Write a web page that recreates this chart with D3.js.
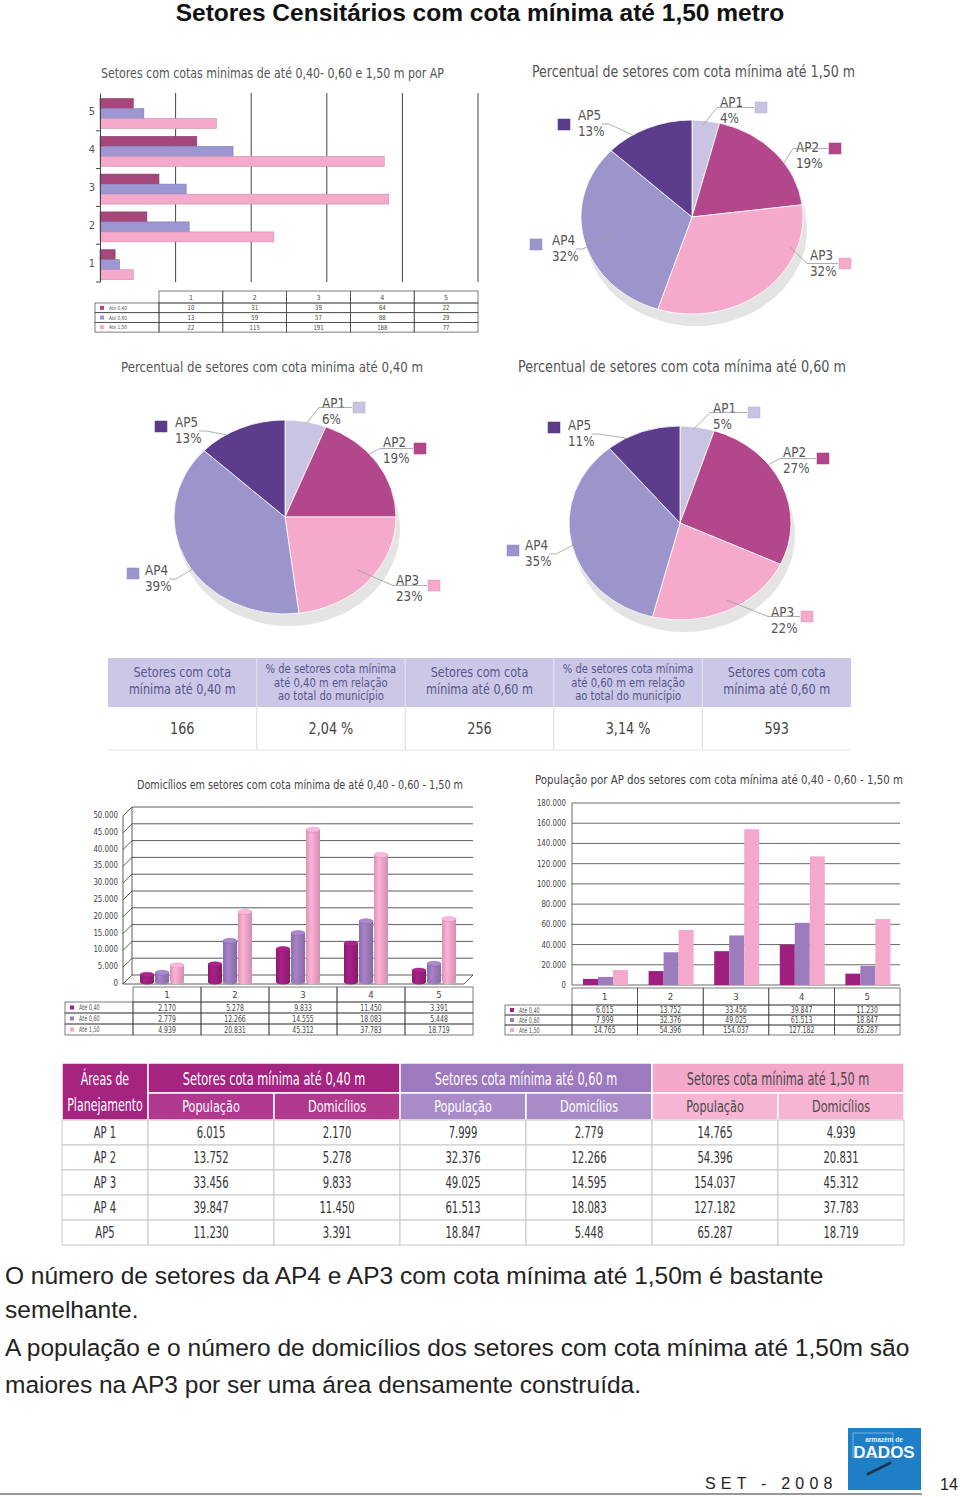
<!DOCTYPE html>
<html>
<head>
<meta charset="utf-8">
<script src="https://cdn.jsdelivr.net/npm/d3@7"></script>
<style>
  body { margin: 0; background: #fff; }
  svg { display: block; }
</style>
</head>
<body>
<div id="pagina"></div>
<script>
/* dados */
const aps = ["1", "2", "3", "4", "5"];
const apNomes = ["AP1", "AP2", "AP3", "AP4", "AP5"];
const cotas = ["Até 0,40", "Até 0,60", "Até 1,50"];

// setores por AP (grafico de barras horizontais)
const setores040 = [10, 31, 39, 64, 22];
const setores060 = [13, 59, 57, 88, 29];
const setores150 = [22, 115, 191, 188, 77];
const ticksSetores = [50, 100, 150, 200, 250];

// percentuais das pizzas
const pct150 = [4, 19, 32, 32, 13];
const pct040 = [6, 19, 23, 39, 13];
const pct060 = [5, 27, 22, 35, 11];

// quadro resumo
const resumoCabecalho = [
  ["Setores com cota", "mínima até 0,40 m"],
  ["% de setores cota mínima", "até 0,40 m em relação", "ao total do município"],
  ["Setores com cota", "mínima até 0,60 m"],
  ["% de setores  cota mínima", "até 0,60 m em relação", "ao total do município"],
  ["Setores com cota", "mínima até 0,60 m"]
];
const resumoValores = ["166", "2,04 %", "256", "3,14 %", "593"];

// domicilios
const domic040 = [2170, 5278, 9833, 11450, 3391];
const domic060 = [2779, 12266, 14555, 18083, 5448];
const domic150 = [4939, 20831, 45312, 37783, 18719];
const ticksDomic = d3.range(0, 50001, 5000);

// populacao
const pop040 = [6015, 13752, 33456, 39847, 11230];
const pop060 = [7999, 32376, 49025, 61513, 18847];
const pop150 = [14765, 54396, 154037, 127182, 65287];
const ticksPop = d3.range(0, 180001, 20000);

// tabela final
const tabelaAreas = ["AP 1", "AP 2", "AP 3", "AP 4", "AP5"];
const tabelaGrupos = ["Setores cota mínima até 0,40 m", "Setores cota mínima até 0,60 m", "Setores cota mínima até 1,50 m"];
const tabelaSub = ["População", "Domicílios"];
const domic060Tabela = [2779, 12266, 14595, 18083, 5448];

const texto = [
  "O número de setores da AP4 e AP3 com cota mínima até 1,50m é bastante",
  "semelhante.",
  "A população e o número de domicílios dos setores com cota mínima até 1,50m são",
  "maiores na AP3 por ser uma área densamente construída."
];

/* estilos */
const COND = '"Liberation Sans Narrow", "DejaVu Sans Condensed", "Roboto Condensed", sans-serif';
const SANS = '"Liberation Sans", Arial, sans-serif';
const coresSetores = ["#a6467a", "#9c96d2", "#f5aacc"];
const coresPizza = ["#c9c4e4", "#b2478b", "#f5a9cb", "#9b95cc", "#5b3d8b"];
const coresSerie = ["#9e1f80", "#9d7cbe", "#f4a8cc"];

const fmt = d3.formatLocale({decimal: ",", thousands: ".", grouping: [3], currency: ["", ""]}).format(",d");

// a fonte condensada do original e mais estreita: aperta o texto na horizontal
function aperta(sel, k) {
  sel.each(function() {
    const L = this.getComputedTextLength();
    if (L > 0) d3.select(this).attr("textLength", L * k).attr("lengthAdjust", "spacingAndGlyphs");
  });
}
function larg(sel, w) {
  sel.attr("textLength", w).attr("lengthAdjust", "spacingAndGlyphs");
}

const svg = d3.select("#pagina").append("svg")
    .attr("width", 960).attr("height", 1497)
    .attr("viewBox", [0, 0, 960, 1497]);
const defs = svg.append("defs");

svg.append("text")
    .attr("x", 480).attr("y", 21).attr("text-anchor", "middle")
    .attr("font-family", SANS).attr("font-weight", "bold").attr("font-size", 24.5)
    .attr("fill", "#111")
    .text("Setores Censitários com cota mínima até 1,50 metro");

/* tabela pequena debaixo dos graficos */
function tabela(g, xb, legX, top, headH, rowH, linhas, cores, fs, k) {
  const x0 = xb.range()[0];
  const cor = "#444";
  g.append("g").selectAll("rect").data(xb.domain()).join("rect")
      .attr("x", d => xb(d)).attr("y", top)
      .attr("width", xb.bandwidth()).attr("height", headH)
      .attr("fill", "none").attr("stroke", cor).attr("stroke-width", 0.7);
  g.append("g").selectAll("text").data(xb.domain()).join("text")
      .attr("x", d => xb(d) + xb.bandwidth() / 2).attr("y", top + headH / 2 + fs * 0.36)
      .attr("text-anchor", "middle").attr("font-size", fs).attr("fill", "#444")
      .text(d => d);
  linhas.forEach((vals, i) => {
    const y0 = top + headH + i * rowH;
    g.append("rect").attr("x", legX).attr("y", y0)
        .attr("width", x0 - legX).attr("height", rowH)
        .attr("fill", "none").attr("stroke", cor).attr("stroke-width", 0.7);
    g.append("rect").attr("x", legX + 5).attr("y", y0 + rowH / 2 - 2)
        .attr("width", 4).attr("height", 4).attr("fill", cores[i]);
    g.append("text").attr("x", legX + 14).attr("y", y0 + rowH / 2 + fs * 0.3)
        .attr("font-size", fs * 0.8).attr("fill", "#555").text(cotas[i])
        .call(aperta, k);
    g.append("g").selectAll("rect").data(vals).join("rect")
        .attr("x", (d, j) => xb(aps[j])).attr("y", y0)
        .attr("width", xb.bandwidth()).attr("height", rowH)
        .attr("fill", "none").attr("stroke", cor).attr("stroke-width", 0.7);
    g.append("g").selectAll("text").data(vals).join("text")
        .attr("x", (d, j) => xb(aps[j]) + xb.bandwidth() / 2)
        .attr("y", y0 + rowH / 2 + fs * 0.36)
        .attr("text-anchor", "middle").attr("font-size", fs).attr("fill", "#444")
        .text(d => fmt(d))
        .call(aperta, k);
  });
}

/* 1 - barras horizontais */
{
  const g = svg.append("g").attr("font-family", COND);
  g.append("text").attr("x", 101).attr("y", 78).attr("font-size", 14).attr("fill", "#555")
      .text("Setores com cotas minimas de até 0,40- 0,60 e 1,50 m por AP")
      .call(larg, 343);
  const x = d3.scaleLinear().domain([0, 250]).range([100, 478]);
  const y = d3.scaleBand().domain(aps.slice().reverse()).range([93, 282]);
  const yi = d3.scaleBand().domain(cotas).range([5.5, 35.5]);

  g.append("g").selectAll("line").data(ticksSetores).join("line")
      .attr("x1", x).attr("x2", x).attr("y1", 93).attr("y2", 282)
      .attr("stroke", "#444").attr("stroke-width", 1);

  [setores040, setores060, setores150].forEach((vals, i) => {
    g.append("g").selectAll("rect").data(vals).join("rect")
        .attr("x", x(0)).attr("y", (d, j) => y(aps[j]) + yi(cotas[i]))
        .attr("width", d => x(d) - x(0)).attr("height", yi.bandwidth())
        .attr("fill", coresSetores[i])
        .attr("stroke", d3.color(coresSetores[i]).darker(0.5)).attr("stroke-width", 0.6);
  });

  const ax = g.append("g").attr("transform", `translate(${x(0)},0)`)
      .call(d3.axisLeft(y).tickSize(0).tickPadding(5));
  ax.select(".domain").attr("stroke", "#444");
  ax.selectAll("text").attr("font-size", 11).attr("fill", "#555").attr("font-family", COND);
  g.append("g").selectAll("line").data(aps).join("line")
      .attr("x1", x(0) - 4).attr("x2", x(0))
      .attr("y1", d => y(d) + y.bandwidth()).attr("y2", d => y(d) + y.bandwidth())
      .attr("stroke", "#444");

  const xb = d3.scaleBand().domain(aps).range([159, 478]);
  tabela(g, xb, 95, 291, 12, 9.7, [setores040, setores060, setores150], coresSetores, 7, 0.85);
}

/* 2 - pizzas */
function pizza(cx, cy, valores, titulo, tx, ty, tfs, tw, rotulos) {
  const rx = 111, ry = 97;
  const g = svg.append("g").attr("font-family", COND);
  g.append("text").attr("x", tx).attr("y", ty).attr("font-size", tfs).attr("fill", "#555")
      .text(titulo).call(larg, tw);
  g.append("ellipse").attr("cx", cx + 4).attr("cy", cy + 12).attr("rx", rx).attr("ry", ry)
      .attr("fill", "#e4e4e4");
  const arcos = d3.pie().sort(null).value(d => d)(valores);
  const arc = d3.arc().innerRadius(0).outerRadius(rx);
  g.append("g").attr("transform", `translate(${cx},${cy}) scale(1,${ry / rx})`)
    .selectAll("path").data(arcos).join("path")
      .attr("d", arc).attr("fill", (d, i) => coresPizza[i])
      .attr("stroke", "#fff").attr("stroke-width", 0.8).attr("vector-effect", "non-scaling-stroke");

  rotulos.forEach((r, i) => {
    const t1 = g.append("text").attr("x", r.tx).attr("y", r.ty - 0.5).attr("font-size", 14)
        .attr("fill", "#555").text(apNomes[i]).call(aperta, 0.95);
    g.append("text").attr("x", r.tx).attr("y", r.ty + 16).attr("font-size", 14)
        .attr("fill", "#555").text(valores[i] + "%").call(aperta, 0.95);
    const w = t1.node().getComputedTextLength() * 0.95;
    g.append("rect").attr("x", r.sx).attr("y", r.sy).attr("width", 12).attr("height", 11)
        .attr("fill", coresPizza[i]).attr("stroke", d3.color(coresPizza[i]).darker(0.3)).attr("stroke-width", 0.5);
    const a = r.ang * Math.PI / 180;
    const fim = [cx + r.rf * rx * Math.sin(a), cy - r.rf * ry * Math.cos(a)];
    let pts;
    if (r.sx > r.tx) {
      const yl = r.sy + 5.5;
      pts = [[r.sx - 1, yl], [r.tx - 3, yl], fim];
    } else {
      const yl = r.ty + 4;
      pts = [[r.tx + w + 2, yl], [r.tx + w + 9, yl], fim];
    }
    g.append("path").attr("d", d3.line()(pts))
        .attr("fill", "none").attr("stroke", "#9a9a9a").attr("stroke-width", 0.8);
  });
}

pizza(692, 217, pct150, "Percentual de setores com cota mínima até 1,50 m", 532, 77, 15, 323, [
  {tx: 720, ty: 107, sx: 755, sy: 102, ang: 6, rf: 0.95},
  {tx: 796, ty: 152, sx: 829, sy: 143, ang: 56, rf: 1.0},
  {tx: 810, ty: 260, sx: 839, sy: 258, ang: 109, rf: 0.93},
  {tx: 552, ty: 245, sx: 530, sy: 239, ang: 257, rf: 0.71},
  {tx: 578, ty: 120, sx: 558, sy: 119, ang: 328, rf: 0.99}
]);
pizza(285, 517, pct040, "Percentual de setores com cota minima até 0,40 m", 121, 372, 14.5, 302, [
  {tx: 322, ty: 408, sx: 353, sy: 402, ang: 11.5, rf: 0.99},
  {tx: 383, ty: 447, sx: 414, sy: 443, ang: 49.5, rf: 1.0},
  {tx: 396, ty: 585, sx: 428, sy: 580, ang: 130, rf: 0.85},
  {tx: 145, ty: 575, sx: 127, sy: 568, ang: 237.5, rf: 0.83},
  {tx: 175, ty: 427, sx: 155, sy: 421, ang: 328, rf: 1.0}
]);
pizza(680, 523, pct060, "Percentual de setores com cota mínima até 0,60 m", 518, 372, 15, 328, [
  {tx: 713, ty: 413, sx: 748, sy: 407, ang: 7, rf: 0.97},
  {tx: 783, ty: 457, sx: 817, sy: 453, ang: 53, rf: 1.0},
  {tx: 771, ty: 617, sx: 801, sy: 611, ang: 152, rf: 0.9},
  {tx: 525, ty: 550, sx: 507, sy: 545, ang: 261, rf: 0.79},
  {tx: 568, ty: 430, sx: 548, sy: 422, ang: 331, rf: 1.0}
]);

/* 3 - quadro resumo */
{
  const g = svg.append("g").attr("font-family", COND);
  const xb = d3.scaleBand().domain(d3.range(5)).range([108, 851]);
  g.append("rect").attr("x", 108).attr("y", 658).attr("width", 743).attr("height", 49).attr("fill", "#cbc8e7");
  g.append("g").selectAll("line").data(d3.range(1, 5)).join("line")
      .attr("x1", d => xb(d)).attr("x2", d => xb(d)).attr("y1", 658).attr("y2", 750)
      .attr("stroke", "#e0e0ea").attr("stroke-width", 1.2);
  g.append("line").attr("x1", 108).attr("x2", 851).attr("y1", 750).attr("y2", 750).attr("stroke", "#e2e2e2");
  resumoCabecalho.forEach((linhas, i) => {
    const fs = linhas.length === 2 ? 14 : 12.5;
    const passo = linhas.length === 2 ? 17 : 13.5;
    const y0 = linhas.length === 2 ? 677 : 673;
    g.append("g").selectAll("text").data(linhas).join("text")
        .attr("x", xb(i) + xb.bandwidth() / 2).attr("y", (d, k) => y0 + k * passo)
        .attr("text-anchor", "middle").attr("font-size", fs).attr("fill", "#56568c")
        .text(d => d).call(aperta, 0.89);
  });
  g.append("g").selectAll("text").data(resumoValores).join("text")
      .attr("x", (d, i) => xb(i) + xb.bandwidth() / 2).attr("y", 734)
      .attr("text-anchor", "middle").attr("font-size", 15.5).attr("fill", "#444")
      .text(d => d).call(aperta, 0.92);
}

/* gradientes dos cilindros */
coresSerie.forEach((c, i) => {
  const lg = defs.append("linearGradient").attr("id", "cil" + i)
      .attr("x1", 0).attr("x2", 1).attr("y1", 0).attr("y2", 0);
  lg.append("stop").attr("offset", "0%").attr("stop-color", d3.color(c).darker(0.35));
  lg.append("stop").attr("offset", "35%").attr("stop-color", d3.color(c).brighter(0.15));
  lg.append("stop").attr("offset", "100%").attr("stop-color", d3.color(c).darker(0.45));
});

/* 4 - domicilios (cilindros) */
{
  const g = svg.append("g").attr("font-family", COND);
  g.append("text").attr("x", 137).attr("y", 789).attr("font-size", 13).attr("fill", "#444")
      .text("Domicílios em setores com cota mínima de até 0,40 - 0,60 - 1,50 m")
      .call(larg, 326);
  const x = d3.scaleBand().domain(aps).range([133, 473]);
  const xi = d3.scaleBand().domain(cotas).range([7, 52]);
  const y = d3.scaleLinear().domain([0, 50000]).range([982, 814]);

  const grade = g.append("g").attr("stroke", "#333").attr("stroke-width", 0.8).attr("fill", "none");
  grade.selectAll("path").data(ticksDomic).join("path")
      .attr("d", d => `M123,${y(d) + 2}L132,${y(d) - 7}H473`);
  grade.append("line").attr("x1", 123).attr("x2", 123).attr("y1", y(50000) + 2).attr("y2", y(0) + 2);
  grade.append("line").attr("x1", 132).attr("x2", 132).attr("y1", y(50000) - 7).attr("y2", y(0) - 7);
  grade.append("path").attr("d", `M123,${y(0) + 2}H464L473,${y(0) - 7}`);

  g.append("g").selectAll("text").data(ticksDomic).join("text")
      .attr("x", 118).attr("y", d => y(d) + 4).attr("text-anchor", "end")
      .attr("font-size", 8.5).attr("fill", "#444").text(d => fmt(d))
      .call(aperta, 0.92);

  [domic040, domic060, domic150].forEach((vals, i) => {
    const c = coresSerie[i];
    const bw = xi.bandwidth() - 1;
    const cil = g.append("g").selectAll("g").data(vals).join("g")
        .attr("transform", (d, j) => `translate(${x(aps[j]) + xi(cotas[i])},0)`);
    cil.append("ellipse").attr("cx", bw / 2).attr("cy", y(0)).attr("rx", bw / 2).attr("ry", 2.5)
        .attr("fill", `url(#cil${i})`);
    cil.append("rect").attr("x", 0).attr("y", d => y(d)).attr("width", bw)
        .attr("height", d => y(0) - y(d)).attr("fill", `url(#cil${i})`);
    cil.append("ellipse").attr("cx", bw / 2).attr("cy", d => y(d)).attr("rx", bw / 2).attr("ry", 2.5)
        .attr("fill", d3.color(c).brighter(0.25)).attr("stroke", d3.color(c).darker(0.5)).attr("stroke-width", 0.5);
  });

  tabela(g, x, 65, 987, 15, 11, [domic040, domic060, domic150], coresSerie, 9.5, 0.72);
}

/* 5 - populacao (barras) */
{
  const g = svg.append("g").attr("font-family", COND);
  g.append("text").attr("x", 535).attr("y", 784).attr("font-size", 13).attr("fill", "#444")
      .text("População por AP dos setores com cota mínima até 0,40 - 0,60 - 1,50 m")
      .call(larg, 368);
  const x = d3.scaleBand().domain(aps).range([572, 900]);
  const xi = d3.scaleBand().domain(cotas).range([11, 56]);
  const y = d3.scaleLinear().domain([0, 180000]).range([985, 803]);

  g.append("g").selectAll("line").data(ticksPop).join("line")
      .attr("x1", 572).attr("x2", 900).attr("y1", y).attr("y2", y)
      .attr("stroke", "#444").attr("stroke-width", 0.8);
  g.append("line").attr("x1", 572).attr("x2", 572).attr("y1", y(180000)).attr("y2", y(0))
      .attr("stroke", "#444").attr("stroke-width", 0.8);
  g.append("g").selectAll("text").data(ticksPop).join("text")
      .attr("x", 566).attr("y", d => y(d) + 3).attr("text-anchor", "end")
      .attr("font-size", 8.5).attr("fill", "#444").text(d => fmt(d))
      .call(aperta, 0.92);

  [pop040, pop060, pop150].forEach((vals, i) => {
    g.append("g").selectAll("rect").data(vals).join("rect")
        .attr("x", (d, j) => x(aps[j]) + xi(cotas[i])).attr("y", d => y(d))
        .attr("width", xi.bandwidth()).attr("height", d => y(0) - y(d))
        .attr("fill", coresSerie[i]);
  });

  tabela(g, x, 505, 988, 17, 10, [pop040, pop060, pop150], coresSerie, 9.5, 0.72);
}

/* 6 - tabela final */
{
  const g = svg.append("g").attr("font-family", COND);
  const xb = d3.scaleBand().domain(d3.range(6)).range([148, 904]);
  const yb = d3.scaleBand().domain(tabelaAreas).range([1120, 1245]);
  const bw = xb.bandwidth();
  const corGrupo = ["#a4247f", "#9d79be", "#f3a7c9"];
  const corSub = ["#b0398e", "#a98bc8", "#f5b5d3"];
  const corTexto = ["#fff", "#fff", "#4a4a4a"];

  g.append("rect").attr("x", 62).attr("y", 1063).attr("width", 86).attr("height", 57)
      .attr("fill", corGrupo[0]).attr("stroke", "#fff").attr("stroke-width", 1.5);
  g.append("text").attr("x", 105).attr("y", 1085).attr("text-anchor", "middle")
      .attr("font-size", 17).attr("fill", "#fff").text("Áreas de").call(aperta, 0.72);
  g.append("text").attr("x", 105).attr("y", 1111).attr("text-anchor", "middle")
      .attr("font-size", 17).attr("fill", "#fff").text("Planejamento").call(aperta, 0.72);

  tabelaGrupos.forEach((t, k) => {
    g.append("rect").attr("x", xb(2 * k)).attr("y", 1063).attr("width", 2 * bw).attr("height", 30)
        .attr("fill", corGrupo[k]).attr("stroke", "#fff").attr("stroke-width", 1.5);
    g.append("text").attr("x", xb(2 * k) + bw).attr("y", 1085).attr("text-anchor", "middle")
        .attr("font-size", 17.5).attr("fill", corTexto[k]).text(t).call(aperta, 0.72);
    tabelaSub.forEach((s, m) => {
      g.append("rect").attr("x", xb(2 * k + m)).attr("y", 1093).attr("width", bw).attr("height", 27)
          .attr("fill", corSub[k]).attr("stroke", "#fff").attr("stroke-width", 1.5);
      g.append("text").attr("x", xb(2 * k + m) + bw / 2).attr("y", 1112).attr("text-anchor", "middle")
          .attr("font-size", 16.5).attr("fill", corTexto[k]).text(s).call(aperta, 0.76);
    });
  });

  const colunas = [pop040, domic040, pop060, domic060Tabela, pop150, domic150];
  tabelaAreas.forEach((ap, r) => {
    g.append("rect").attr("x", 62).attr("y", yb(ap)).attr("width", 86).attr("height", yb.bandwidth())
        .attr("fill", "#fff").attr("stroke", "#c8c8c8").attr("stroke-width", 1);
    g.append("text").attr("x", 105).attr("y", yb(ap) + yb.bandwidth() / 2 + 5.5)
        .attr("text-anchor", "middle").attr("font-size", 15.5).attr("fill", "#333").text(ap)
        .call(aperta, 0.72);
    colunas.forEach((col, c) => {
      g.append("rect").attr("x", xb(c)).attr("y", yb(ap)).attr("width", bw).attr("height", yb.bandwidth())
          .attr("fill", "#fff").attr("stroke", "#c8c8c8").attr("stroke-width", 1);
      g.append("text").attr("x", xb(c) + bw / 2).attr("y", yb(ap) + yb.bandwidth() / 2 + 5.5)
          .attr("text-anchor", "middle").attr("font-size", 15.5).attr("fill", "#333").text(fmt(col[r]))
          .call(aperta, 0.72);
    });
  });
}

/* 7 - texto e rodape */
svg.append("g").selectAll("text").data(texto).join("text")
    .attr("x", 5).attr("y", (d, i) => [1284, 1318, 1356, 1393][i])
    .attr("font-family", SANS).attr("font-size", 24.5).attr("fill", "#222")
    .text(d => d);

svg.append("line").attr("x1", 0).attr("x2", 922).attr("y1", 1494).attr("y2", 1494)
    .attr("stroke", "#333").attr("stroke-width", 1);
svg.append("text").attr("x", 705).attr("y", 1489).attr("font-family", SANS).attr("font-size", 16)
    .attr("letter-spacing", 5.2).attr("fill", "#222").text("SET - 2008");
svg.append("text").attr("x", 940).attr("y", 1490).attr("font-family", SANS).attr("font-size", 16)
    .attr("fill", "#222").text("14");
{
  const g = svg.append("g");
  g.append("rect").attr("x", 848).attr("y", 1428).attr("width", 73).attr("height", 62).attr("fill", "#1f7fc6");
  g.append("rect").attr("x", 853).attr("y", 1433).attr("width", 40).attr("height", 24)
      .attr("fill", "none").attr("stroke", "#8fc0e6").attr("stroke-width", 0.8);
  g.append("text").attr("x", 884).attr("y", 1442).attr("text-anchor", "middle")
      .attr("font-family", SANS).attr("font-weight", "bold").attr("font-size", 6.5).attr("fill", "#e8f2fb")
      .text("armazém de");
  g.append("text").attr("x", 884).attr("y", 1458).attr("text-anchor", "middle")
      .attr("font-family", SANS).attr("font-weight", "bold").attr("font-size", 17).attr("fill", "#f2f7fc")
      .text("DADOS");
  g.append("line").attr("x1", 868).attr("x2", 890).attr("y1", 1474).attr("y2", 1463)
      .attr("stroke", "#1a3550").attr("stroke-width", 3).attr("stroke-linecap", "round");
}
</script>
</body>
</html>
